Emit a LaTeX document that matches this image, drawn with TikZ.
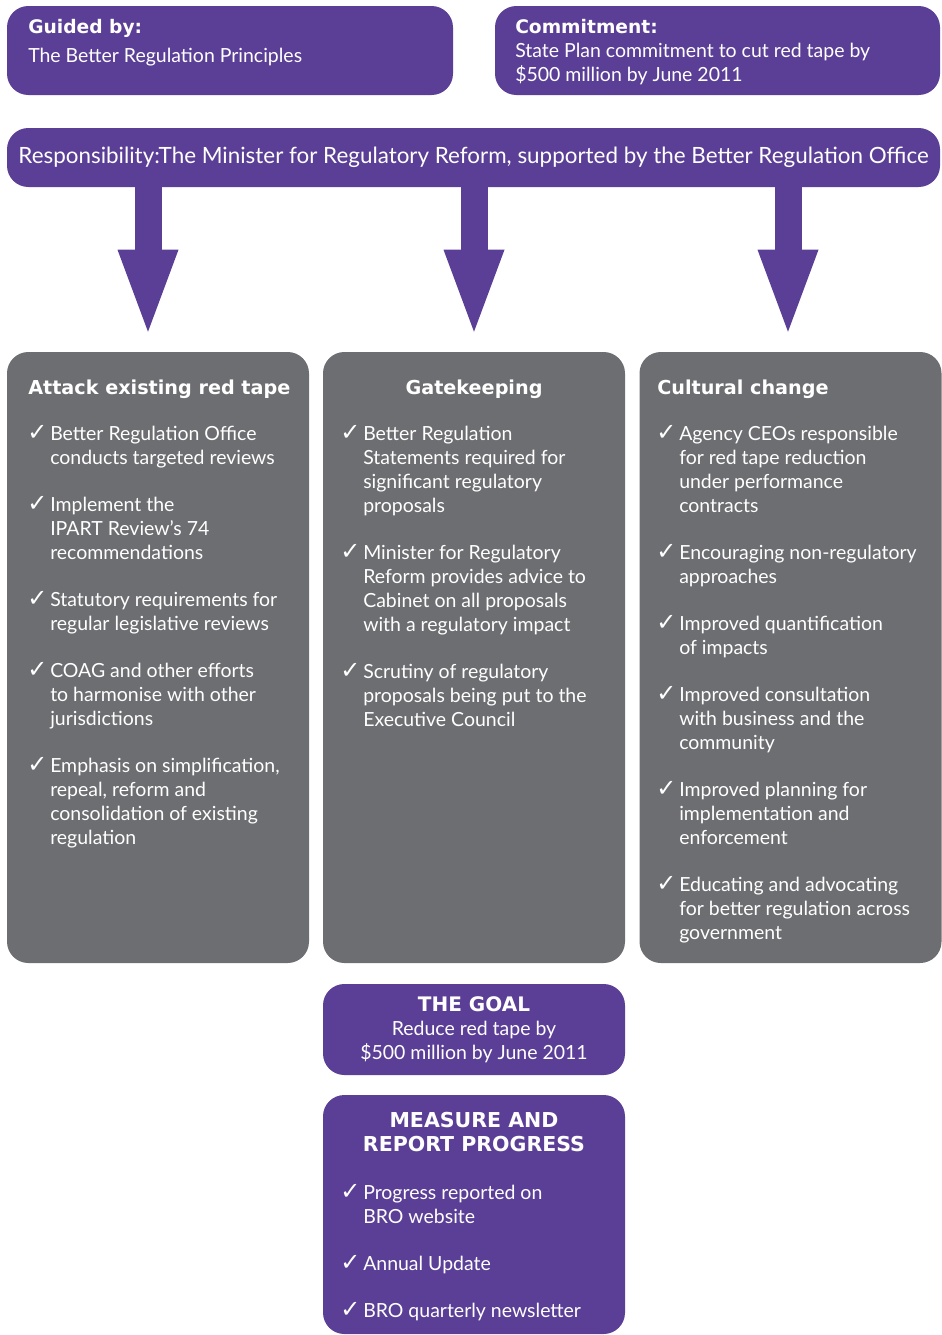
\documentclass[tikz,border=0pt]{standalone}
\usepackage{fontspec}
\setmainfont{Lato}
\newfontfamily\checkfont{DejaVu Sans}
\newfontfamily\headfont{DejaVu Sans}
\usepackage{tikz}
\usetikzlibrary{positioning,arrows.meta}
\usepackage{xcolor}

\definecolor{brpurple}{RGB}{91,63,150}
\definecolor{brgrey}{RGB}{109,110,113}

\newcommand{\tk}{{\checkfont\fontsize{18}{18}\selectfont ✓}}

\begin{document}
\begin{tikzpicture}[%
    x=0.75pt,
    y=-0.75pt,
    purplebox/.style={%
      fill=brpurple,
      rounded corners=16pt,
      inner sep=0pt
    },
    greybox/.style={%
      fill=brgrey,
      rounded corners=16pt,
      inner sep=0pt,
      minimum width=226.5pt,
      minimum height=458.25pt
    },
    boxhead/.style={%
      text=white,
      font=\headfont\bfseries\fontsize{14}{18}\selectfont,
      anchor=base west,
      inner sep=0pt
    },
    colhead/.style={%
      boxhead,
      font=\headfont\bfseries\fontsize{14.4}{18}\selectfont
    },
    boxtext/.style={%
      text=white,
      font=\fontsize{14.6}{18}\selectfont,
      anchor=base west,
      inner sep=0pt
    },
    bigarrow/.style={%
      brpurple,
      line width=20.25pt,
      -{Triangle[width=45.75pt,length=61.5pt,line width=0pt]},
      shorten >=15pt
    }
  ]
    \useasboundingbox (0,0) rectangle (942,1335);

    % top row
    \node[purplebox, minimum width=334.5pt, minimum height=66.75pt] (guided) at (230,50.5) {};
    \node[purplebox, minimum width=333.75pt, minimum height=66.75pt] (commit) at (717.5,50.5) {};
    \node[boxhead] (guidedhead) at (28,33) {Guided by:};
    \node[boxtext] (guidedtext) at (28,62) {The Better Regulation Principles};
    \node[boxhead] (commithead) at (515,33) {Commitment:};
    \node[boxtext] (committext) at (515,57)
      {\begin{tabular}[t]{@{}l@{}}State Plan commitment to cut red tape by\\\$500 million by June 2011\end{tabular}};

    % columns
    \node[greybox] (attack)  at (158,657.5)   {};
    \node[greybox] (gate)    at (474,657.5)   {};
    \node[greybox] (culture) at (790.5,657.5) {};

    \coordinate (c1) at (148,0);
    \coordinate (c2) at (474,0);
    \coordinate (c3) at (788,0);

    \node[purplebox, minimum width=699.75pt, minimum height=44.25pt] (resp) at (473.5,157.5) {};

    \draw[bigarrow] (resp.south -| c1) -- (attack.north -| c1);
    \draw[bigarrow] (resp.south -| c2) -- (gate.north -| c2);
    \draw[bigarrow] (resp.south -| c3) -- (culture.north -| c3);

    \node[boxtext, anchor=base, font=\fontsize{16.8}{18}\selectfont] (resptext) at (473.5,163)
      {Responsibility:The Minister for Regulatory Reform, supported by the Better Regulation Office};

    \node[colhead] (attackhead) at (28,394) {Attack existing red tape};
    \node[colhead, anchor=base] (gatehead) at (474,394) {Gatekeeping};
    \node[colhead] (culturehead) at (657,394) {Cultural change};

    \node[boxtext] (attacklist) at (27,440) {%
      \begin{tabular}[t]{@{}p{17.25pt}@{}l@{}}
        \tk & Better Regulation Office\\
            & conducts targeted reviews\\[17.25pt]
        \tk & Implement the\\
            & IPART Review’s 74\\
            & recommendations\\[17.25pt]
        \tk & Statutory requirements for\\
            & regular legislative reviews\\[17.25pt]
        \tk & COAG and other efforts\\
            & to harmonise with other\\
            & jurisdictions\\[17.25pt]
        \tk & Emphasis on simplification,\\
            & repeal, reform and\\
            & consolidation of existing\\
            & regulation
      \end{tabular}};

    \node[boxtext] (gatelist) at (340,440) {%
      \begin{tabular}[t]{@{}p{17.25pt}@{}l@{}}
        \tk & Better Regulation\\
            & Statements required for\\
            & significant regulatory\\
            & proposals\\[17.25pt]
        \tk & Minister for Regulatory\\
            & Reform provides advice to\\
            & Cabinet on all proposals\\
            & with a regulatory impact\\[17.25pt]
        \tk & Scrutiny of regulatory\\
            & proposals being put to the\\
            & Executive Council
      \end{tabular}};

    \node[boxtext] (culturelist) at (656,440) {%
      \begin{tabular}[t]{@{}p{17.25pt}@{}l@{}}
        \tk & Agency CEOs responsible\\
            & for red tape reduction\\
            & under performance\\
            & contracts\\[17.25pt]
        \tk & Encouraging non-regulatory\\
            & approaches\\[17.25pt]
        \tk & Improved quantification\\
            & of impacts\\[17.25pt]
        \tk & Improved consultation\\
            & with business and the\\
            & community\\[17.25pt]
        \tk & Improved planning for\\
            & implementation and\\
            & enforcement\\[17.25pt]
        \tk & Educating and advocating\\
            & for better regulation across\\
            & government
      \end{tabular}};

    % goal and reporting
    \node[purplebox, minimum width=226.5pt, minimum height=68.25pt] (goal) at (474,1029.5) {};
    \node[boxtext, anchor=base] (goaltext) at (474,1011)
      {\begin{tabular}[t]{@{}c@{}}{\headfont\bfseries\fontsize{15}{18}\selectfont THE GOAL}\\Reduce red tape by\\\$500 million by June 2011\end{tabular}};

    \node[purplebox, minimum width=226.5pt, minimum height=179.25pt] (measure) at (474,1214.5) {};
    \node[colhead, anchor=base, font=\headfont\bfseries\fontsize{15.4}{18}\selectfont] (measurehead) at (474,1127)
      {\begin{tabular}[t]{@{}c@{}}MEASURE AND\\REPORT PROGRESS\end{tabular}};
    \node[boxtext] (measurelist) at (340,1199) {%
      \begin{tabular}[t]{@{}p{17.25pt}@{}l@{}}
        \tk & Progress reported on\\
            & BRO website\\[17.25pt]
        \tk & Annual Update\\[17.25pt]
        \tk & BRO quarterly newsletter
      \end{tabular}};
  \end{tikzpicture}
\end{document}
